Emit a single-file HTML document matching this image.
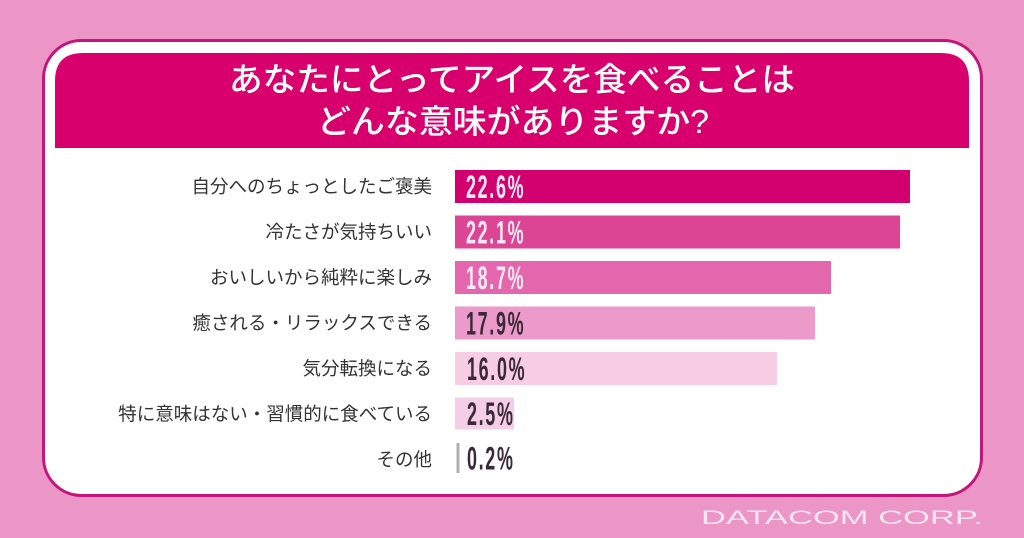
<!DOCTYPE html>
<html>
<head>
<meta charset="utf-8">
<style>
html,body{margin:0;padding:0;background:#ec96c7;}
svg{display:block;}
</style>
</head>
<body>
<svg width="1024" height="538" viewBox="0 0 1024 538" xmlns="http://www.w3.org/2000/svg">
  <rect x="0" y="0" width="1024" height="538" fill="#ec96c7"/>
  <!-- card -->
  <rect x="43.5" y="40.5" width="938" height="455" rx="38" ry="38" fill="#ffffff" stroke="#c2167a" stroke-width="3"/>
  <!-- title band -->
  <path d="M55,148 L55,81 Q55,53 83,53 L941,53 Q969,53 969,81 L969,148 Z" fill="#d8006d"/>
  <g font-family="'Liberation Sans','Noto Sans CJK JP',sans-serif" fill="#ffffff" font-size="33" font-weight="500" text-anchor="middle">
    <text x="512" y="91" textLength="566" lengthAdjust="spacingAndGlyphs">あなたにとってアイスを食べることは</text>
    <text x="513" y="133" textLength="392" lengthAdjust="spacingAndGlyphs">どんな意味がありますか?</text>
  </g>
  <!-- bars -->
  <rect x="455" y="170" width="455" height="33" fill="#d2006e"/>
  <rect x="455" y="215.5" width="445" height="33" fill="#dc4494"/>
  <rect x="455" y="261" width="376" height="33" fill="#e467ae"/>
  <rect x="455" y="306.5" width="360" height="33" fill="#ec9ac9"/>
  <rect x="455" y="352" width="322" height="33" fill="#f6cde4"/>
  <rect x="455" y="397.5" width="59" height="32" fill="#f4cde6"/>
  <rect x="456.5" y="443" width="3" height="30" fill="#b0b0b0"/>
  <!-- labels -->
  <g font-family="'Liberation Sans','Noto Sans CJK JP',sans-serif" fill="#333333" font-size="18.5" text-anchor="end">
    <text x="432" y="193">自分へのちょっとしたご褒美</text>
    <text x="432" y="238.5">冷たさが気持ちいい</text>
    <text x="432" y="284">おいしいから純粋に楽しみ</text>
    <text x="432" y="329.5">癒される・リラックスできる</text>
    <text x="432" y="375">気分転換になる</text>
    <text x="432" y="420.5">特に意味はない・習慣的に食べている</text>
    <text x="432" y="466">その他</text>
  </g>
  <!-- values -->
  <g font-family="'Liberation Sans',sans-serif" font-size="32" font-weight="bold" letter-spacing="3">
    <text transform="translate(466,198) scale(0.56,1)" fill="#fbeaf3">22.6%</text>
    <text transform="translate(466,243.5) scale(0.56,1)" fill="#fbeaf3">22.1%</text>
    <text transform="translate(466,289) scale(0.56,1)" fill="#fbeaf3">18.7%</text>
    <text transform="translate(466,334.5) scale(0.56,1)" fill="#3a2a38">17.9%</text>
    <text transform="translate(467,380) scale(0.56,1)" fill="#3a2a38">16.0%</text>
    <text transform="translate(467,425) scale(0.56,1)" fill="#3a2a38">2.5%</text>
    <text transform="translate(467,469.5) scale(0.56,1)" fill="#3a2a38">0.2%</text>
  </g>
  <!-- footer -->
  <text x="701" y="524" font-family="'Liberation Sans',sans-serif" font-size="19" fill="#fde6f1" textLength="282" lengthAdjust="spacingAndGlyphs">DATACOM CORP.</text>
</svg>
</body>
</html>
